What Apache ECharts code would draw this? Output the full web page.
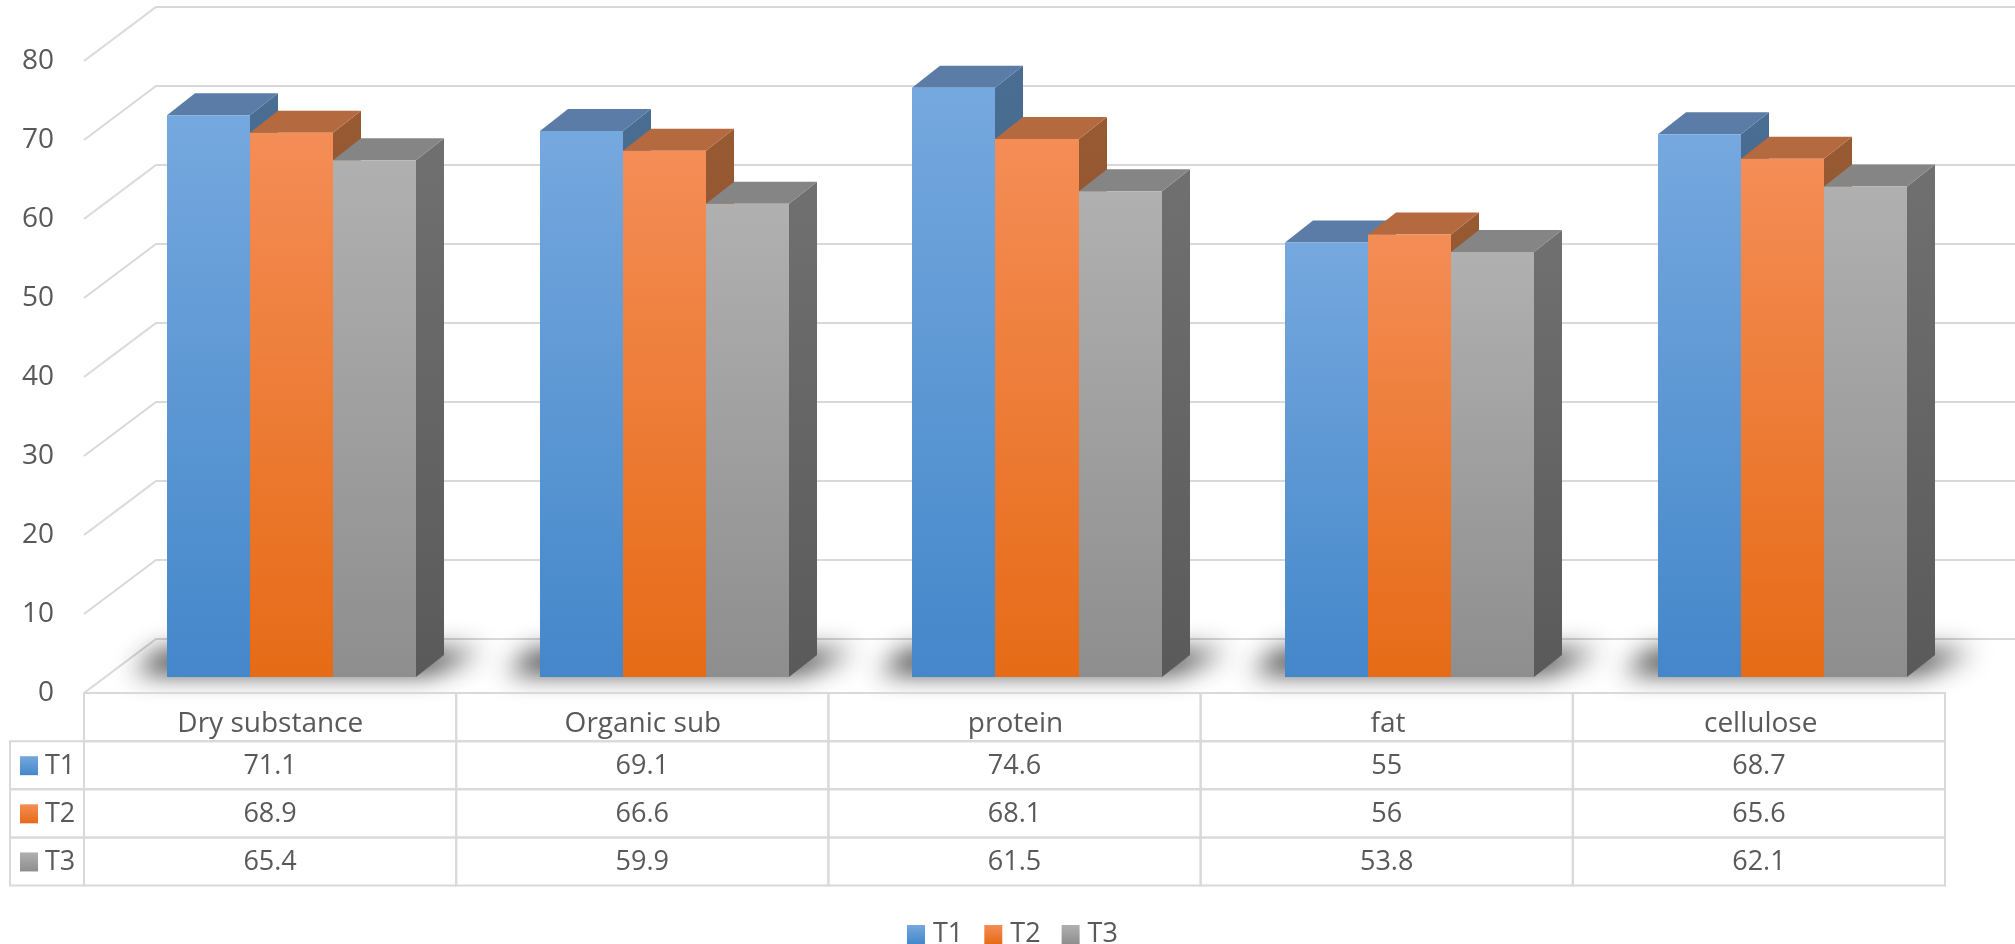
<!DOCTYPE html>
<html>
<head>
<meta charset="utf-8">
<style>html,body{margin:0;padding:0;background:#fff}#chart{width:2015px;height:944px}</style>
<script src="https://cdn.jsdelivr.net/npm/echarts@6/dist/echarts.min.js"></script>
</head>
<body>
<div id="chart"></div>
<script>
// Chart data
const categories = ['Dry substance', 'Organic sub', 'protein', 'fat', 'cellulose'];
const t1 = [71.1, 69.1, 74.6, 55, 68.7];
const t2 = [68.9, 66.6, 68.1, 56, 65.6];
const t3 = [65.4, 59.9, 61.5, 53.8, 62.1];
const seriesNames = ['T1', 'T2', 'T3'];
const valueTicks = [0, 10, 20, 30, 40, 50, 60, 70, 80];
const tableRows = ['', 'T1', 'T2', 'T3'];

// Depth projection of the pseudo 3D box
const WALL_DX = 72, WALL_DY = 54;
const BAR_SHIFT_X = 21.5, BAR_SHIFT_Y = 16;
const BAR_DX = 28, BAR_DY = 22;
const BAR_WIDTH_RATIO = 0.2229;
const LINE = '#d9d9d9', TEXT = '#595959', FONT = '"Open Sans", sans-serif';

const vgrad = (a, b) => new echarts.graphic.LinearGradient(0, 0, 0, 1, [
  { offset: 0, color: a }, { offset: 1, color: b }
]);
const palette = [
  { front: ['#75a8de', '#4487ca'], top: '#5a7ca6', side: ['#4a6d92', '#3a5a7e'] },
  { front: ['#f48d56', '#e66b16'], top: '#b5693e', side: ['#985a33', '#7f4a28'] },
  { front: ['#b0b0b0', '#8e8e8e'], top: '#858585', side: ['#707070', '#5a5a5a'] }
];

// One box: front face, top face and right side, placed from the value scale
function barRenderer(seriesIdx) {
  const c = palette[seriesIdx];
  return function (params, api) {
    const cat = api.value(0), val = api.value(1);
    const top = api.coord([cat, val]);
    const base = api.coord([cat, 0]);
    const w = api.size([1, 0])[0] * BAR_WIDTH_RATIO;
    const x0 = Math.round(top[0] + BAR_SHIFT_X - 1.5 * w + seriesIdx * w);
    const x1 = Math.round(top[0] + BAR_SHIFT_X - 1.5 * w + (seriesIdx + 1) * w);
    const yT = top[1] - BAR_SHIFT_Y, yB = base[1] - BAR_SHIFT_Y;
    return {
      type: 'group',
      children: [
        { type: 'polygon', shape: { points: [[x1, yT], [x1 + BAR_DX, yT - BAR_DY], [x1 + BAR_DX, yB - BAR_DY], [x1, yB]] },
          style: { fill: vgrad(c.side[0], c.side[1]) } },
        { type: 'polygon', shape: { points: [[x0, yT], [x1, yT], [x1 + BAR_DX, yT - BAR_DY], [x0 + BAR_DX, yT - BAR_DY]] },
          style: { fill: c.top } },
        { type: 'rect', shape: { x: x0, y: yT, width: x1 - x0, height: yB - yT },
          style: { fill: vgrad(c.front[0], c.front[1]) } }
      ]
    };
  };
}

// Wall grid lines: a slanted run on the side wall, then across the back wall
function renderWallLine(params, api) {
  const p = api.coord([0, api.value(0)]);
  const g = params.coordSys;
  const y = p[1];
  return {
    type: 'polyline',
    shape: { points: [[g.x, y], [g.x + WALL_DX, y - WALL_DY], [g.x + g.width + WALL_DX, y - WALL_DY]] },
    style: { stroke: LINE, lineWidth: 2, fill: null }
  };
}

// Soft shadow cast on the floor: the outline sits off canvas so only its blur shows
function renderFloorShadow(params, api) {
  const p = api.coord([api.value(0), 0]);
  const cx = p[0], y = p[1], off = 3000;
  return {
    type: 'polygon',
    shape: { points: [
      [cx - 110 - off, y - 42], [cx + 212 - off, y - 42],
      [cx + 160 - off, y - 20], [cx - 136 - off, y - 20]
    ] },
    style: { fill: '#000', shadowBlur: 26, shadowColor: 'rgba(25,25,25,0.9)', shadowOffsetX: off }
  };
}

// Data table: cell borders and values
function renderCell(params, api) {
  const p = api.coord([api.value(0), api.value(1)]);
  const s = api.size([1, 1]);
  const row = api.value(1);
  const children = [{
    type: 'rect',
    shape: { x: p[0] - s[0] / 2, y: p[1] - s[1] / 2, width: s[0], height: s[1] },
    style: { fill: 'transparent', stroke: LINE, lineWidth: 2 }
  }];
  if (row > 0) {
    children.push({
      type: 'text',
      style: { x: p[0], y: p[1] + 1, text: String(api.value(2)), align: 'center', verticalAlign: 'middle',
        fill: TEXT, font: '27px ' + FONT }
    });
  }
  return { type: 'group', children };
}

// Series key column on the left of the table
function renderKey(params, api) {
  const row = api.value(1);
  const p = api.coord([0, row]);
  const s = api.size([1, 1]);
  const g = params.coordSys;
  const c = palette[row - 1];
  return {
    type: 'group',
    children: [
      { type: 'rect', shape: { x: 10, y: p[1] - s[1] / 2, width: g.x - 10, height: s[1] },
        style: { fill: 'transparent', stroke: LINE, lineWidth: 2 } },
      { type: 'rect', shape: { x: 20, y: p[1] - 9, width: 18, height: 19 },
        style: { fill: vgrad(c.front[0], c.front[1]) } },
      { type: 'text', style: { x: 45, y: p[1] + 1, text: tableRows[row], align: 'left', verticalAlign: 'middle',
        fill: TEXT, font: '27px ' + FONT } }
    ]
  };
}

const cellData = [];
categories.forEach((_, i) => {
  cellData.push([i, 0, '']);
  [t1, t2, t3].forEach((vals, r) => cellData.push([i, r + 1, vals[i]]));
});

const barSeries = [t1, t2, t3].map((vals, i) => ({
  name: seriesNames[i],
  type: 'custom',
  xAxisIndex: 0, yAxisIndex: 0,
  renderItem: barRenderer(i),
  itemStyle: { color: vgrad(palette[i].front[0], palette[i].front[1]) },
  encode: { x: 0, y: 1 },
  z: 5,
  data: vals.map((v, c) => [c, v])
}));

const chart = echarts.init(document.getElementById('chart'), null, { renderer: 'canvas' });
chart.setOption({
  animation: false,
  backgroundColor: '#fff',
  grid: [
    { left: 84, right: 68, top: 61, height: 632 },
    { left: 84, right: 70, top: 693, height: 192.5 }
  ],
  xAxis: [
    { type: 'category', gridIndex: 0, data: categories, position: 'bottom',
      axisLine: { show: false }, axisTick: { show: false }, splitLine: { show: false },
      axisLabel: { color: TEXT, fontFamily: FONT, fontSize: 28, margin: 17, interval: 0 } },
    { type: 'category', gridIndex: 1, data: categories, show: false }
  ],
  yAxis: [
    { type: 'value', gridIndex: 0, min: 0, max: 80, interval: 10,
      axisLine: { show: false }, axisTick: { show: false }, splitLine: { show: false },
      axisLabel: { color: TEXT, fontFamily: FONT, fontSize: 28, margin: 30 } },
    { type: 'category', gridIndex: 1, data: tableRows, inverse: true, show: false }
  ],
  legend: {
    data: seriesNames, left: 902, top: 916, icon: 'rect',
    itemWidth: 18, itemHeight: 19, itemGap: 21,
    textStyle: { color: TEXT, fontFamily: FONT, fontSize: 27, padding: [0, 0, 0, 3] }
  },
  series: [
    { type: 'custom', name: 'wall', xAxisIndex: 0, yAxisIndex: 0, renderItem: renderWallLine, encode: { y: 0 }, z: 1,
      data: valueTicks.map(v => [v]), silent: true },
    { type: 'custom', name: 'shadow', xAxisIndex: 0, yAxisIndex: 0, renderItem: renderFloorShadow, encode: { x: 0 }, z: 2,
      data: categories.map((_, i) => [i]), silent: true },
    ...barSeries,
    { type: 'custom', name: 'table', xAxisIndex: 1, yAxisIndex: 1, renderItem: renderCell, encode: { x: 0, y: 1 }, z: 3,
      data: cellData, silent: true },
    { type: 'custom', name: 'keys', xAxisIndex: 1, yAxisIndex: 1, renderItem: renderKey, encode: { x: 0, y: 1 }, z: 3,
      data: [[0, 1], [0, 2], [0, 3]], silent: true }
  ]
});
</script>
</body>
</html>
